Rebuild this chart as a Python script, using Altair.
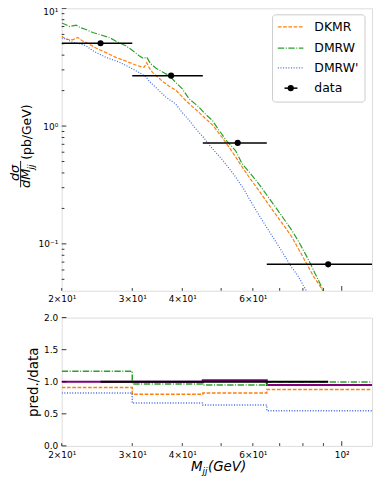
import altair as alt
import pandas as pd

# ---------------- data ----------------
bin_edges = [20, 30, 45, 65, 120]
data_x = [25.0, 37.5, 55.0, 92.5]
data_y = [5.05, 2.68, 0.72, 0.067]
data_xlo = [20, 30, 45, 65]
data_xhi = [30, 45, 65, 120]

dkmr_x = [20, 20.5, 21.3, 21.95, 22.5, 23.0, 24.35, 25.8, 27.3, 29.0, 30.6, 31.5, 32.1, 32.6, 33.1,
          33.7, 35.7, 37.1, 38.5, 40.8, 42.5, 44.0, 45.8, 47.5, 50.3, 52.2, 54.3, 56.4, 59.0, 62.0,
          65.0, 68.2, 71.5, 75.0, 78.5, 82.5, 85.0, 87.3, 89.9]
dkmr_y = [5.8, 5.47, 5.4, 5.65, 5.3, 5.13, 4.6, 4.2, 3.83, 3.55, 3.3, 3.2, 3.15, 3.45, 3.1,
          2.86, 2.4, 2.18, 2.02, 1.65, 1.45, 1.31, 1.15, 1.03, 0.8, 0.67, 0.55, 0.45, 0.36, 0.286,
          0.227, 0.181, 0.145, 0.115, 0.087, 0.064, 0.053, 0.0465, 0.0395]

dmrw_x = [20, 20.5, 20.9, 21.75, 22.2, 23.0, 23.9, 25.0, 26.3, 27.5, 28.9, 30.0, 31.2, 32.0, 32.6,
          33.3, 34.4, 35.7, 37.1, 38.5, 40.0, 41.6, 43.0, 44.0, 45.8, 47.5, 49.3, 51.6, 54.3, 56.4,
          59.0, 62.0, 65.0, 68.2, 71.5, 75.0, 78.0, 81.0, 83.5, 85.7, 88.0, 89.9]
dmrw_y = [7.5, 7.25, 7.0, 7.18, 6.87, 6.6, 6.23, 5.95, 5.65, 5.2, 4.81, 4.4, 3.96, 3.75, 3.85,
          3.4, 3.1, 2.88, 2.68, 2.35, 2.07, 1.7, 1.55, 1.45, 1.25, 1.12, 0.93, 0.75, 0.62, 0.48,
          0.4, 0.325, 0.26, 0.207, 0.165, 0.131, 0.105, 0.083, 0.068, 0.0564, 0.047, 0.04]

dmrwp_x = [20, 20.5, 21.3, 22.2, 23.0, 23.9, 25.8, 27.9, 30.1, 31.5, 32.5, 33.1, 34.0, 35.0, 36.4,
           38.5, 40.0, 41.6, 43.2, 45.2, 46.6, 48.4, 50.3, 52.0, 54.3, 57.0, 59.7, 62.5, 65.6, 69.0,
           72.2, 75.0, 77.9, 80.0, 81.7]
dmrwp_y = [5.58, 5.5, 5.13, 5.0, 4.81, 4.36, 3.83, 3.48, 3.05, 2.8, 2.6, 2.4, 2.2, 2.0, 1.76,
           1.54, 1.3, 1.12, 0.95, 0.8, 0.7, 0.6, 0.52, 0.45, 0.371, 0.29, 0.22, 0.17, 0.131, 0.1,
           0.078, 0.063, 0.053, 0.045, 0.0395]

ratio_dkmr = [0.91, 0.806, 0.826, 0.879]
ratio_dmrw = [1.165, 0.966, 0.95, 0.995]
ratio_dmrwp = [0.826, 0.667, 0.636, 0.548]
ratio_extra = [1.0, 1.0, 1.022, 0.95]
ratio_data = [1.0, 1.0, 1.0, 1.0]

series_names = ["DKMR", "DMRW", "DMRW'", "data"]
series_colors = ["#ff7f0e", "#2ca02c", "royalblue", "black"]
series_dash = [[3.7, 1.6], [6.4, 1.6, 1, 1.6], [1, 1.65], [1, 0]]

x_minor_ticks = [20, 30, 40, 50, 60, 70, 80, 90]
x_major_ticks = [100]
x_label_values = [20, 30, 40, 60, 100]
x_label_texts = ["2×10¹", "3×10¹", "4×10¹", "6×10¹", "10²"]
y_major_ticks = [0.1, 1, 10]
y_minor_ticks = [0.05, 0.06, 0.07, 0.08, 0.09, 0.2, 0.3, 0.4, 0.5, 0.6, 0.7, 0.8, 0.9,
                 2, 3, 4, 5, 6, 7, 8, 9]
y_label_texts = ["10⁻¹", "10⁰", "10¹"]
ratio_ticks = [0, 0.5, 1.0, 1.5, 2.0]

# ---------------- layout ----------------
W = 312
H1 = 284
H2 = 129
FONT = "DejaVu Sans"
MAJ = 4.7
MIN = 2.7


def label_expr(vals, texts):
    parts = [f"datum.value == {v} ? '{t}'" for v, t in zip(vals, texts)]
    return " : ".join(parts) + " : ''"


xs = alt.Scale(type="log", domain=[20, 119])
ys = alt.Scale(type="log", domain=[0.04, 10])
rs = alt.Scale(domain=[0, 2])

common_axis = dict(title=None, labelFlush=False, labelOverlap=False, ticks=False, tickSize=0,
                   domain=False, grid=False, labelFont=FONT, labelFontSize=9, labelColor="black")

x_axis_top = alt.Axis(values=x_label_values[:4],
                      labelExpr=label_expr(x_label_values[:4], x_label_texts[:4]),
                      labelPadding=4, **common_axis)
x_axis_bot = alt.Axis(values=x_label_values,
                      labelExpr=label_expr(x_label_values, x_label_texts),
                      labelPadding=5, **common_axis)
y_axis_top = alt.Axis(values=y_major_ticks,
                      labelExpr=label_expr(y_major_ticks, y_label_texts),
                      labelOffset={"condition": {"test": "datum.value >= 10", "value": 3.5}, "value": 0},
                      labelPadding=4, **common_axis)
y_axis_bot = alt.Axis(values=ratio_ticks, format=".1f", labelPadding=4,
                      **{**common_axis, "title": "pred./data"},
                      titleFont=FONT, titleFontSize=13.5, titleFontWeight="normal",
                      titleColor="black", titlePadding=3)


def X(axis, field="x"):
    return alt.X(f"{field}:Q", scale=xs, axis=axis)


# ---------------- top panel ----------------
top_layers = []
curves = [(dkmr_x, dkmr_y), (dmrw_x, dmrw_y), (dmrwp_x, dmrwp_y)]
for (cx, cy), col, dash in zip(curves, series_colors[:3], series_dash[:3]):
    df = pd.DataFrame({"x": cx, "y": cy})
    top_layers.append(
        alt.Chart(df).mark_line(color=col, strokeDash=dash, strokeWidth=1.2, clip=True).encode(
            x=X(x_axis_top), y=alt.Y("y:Q", scale=ys, axis=y_axis_top)))

pts = pd.DataFrame({"x": data_x, "y": data_y, "lo": data_xlo, "hi": data_xhi})
top_layers.append(
    alt.Chart(pts).mark_rule(color="black", strokeWidth=1.5, clip=True).encode(
        x=X(x_axis_top, "lo"), x2="hi:Q", y=alt.Y("y:Q", scale=ys, axis=y_axis_top)))
top_layers.append(
    alt.Chart(pts).mark_circle(color="black", size=38, opacity=1).encode(
        x=X(x_axis_top), y=alt.Y("y:Q", scale=ys, axis=y_axis_top)))

# inward ticks
for vals, ln in [(x_minor_ticks, MIN), (x_major_ticks, MAJ)]:
    top_layers.append(
        alt.Chart(pd.DataFrame({"x": vals})).mark_rule(color="black", strokeWidth=0.8).encode(
            x=X(x_axis_top), y=alt.value(H1), y2=alt.value(H1 - ln)))
for vals, ln in [(y_minor_ticks, MIN), (y_major_ticks, MAJ)]:
    top_layers.append(
        alt.Chart(pd.DataFrame({"y": vals})).mark_rule(color="black", strokeWidth=0.8).encode(
            y=alt.Y("y:Q", scale=ys, axis=y_axis_top), x=alt.value(0), x2=alt.value(ln)))

# legend
one = pd.DataFrame({"a": [0]})
top_layers.append(
    alt.Chart(one).mark_rect(fill="white", fillOpacity=0.8, stroke="#cccccc", strokeWidth=1,
                             cornerRadius=3).encode(
        x=alt.value(212), x2=alt.value(305), y=alt.value(6.6), y2=alt.value(94.3)))
leg_y = [18.6, 40.0, 60.0, 80.3]
for name, col, dash, ly in zip(series_names, series_colors, series_dash, leg_y):
    if name == "data":
        top_layers.append(alt.Chart(one).mark_rule(color=col, strokeWidth=1.5).encode(
            x=alt.value(224), x2=alt.value(237), y=alt.value(ly)))
        top_layers.append(alt.Chart(one).mark_circle(color=col, size=38, opacity=1).encode(
            x=alt.value(230.3), y=alt.value(ly)))
    else:
        top_layers.append(alt.Chart(one).mark_rule(color=col, strokeDash=dash, strokeWidth=1.2).encode(
            x=alt.value(217.3), x2=alt.value(243), y=alt.value(ly)))
    top_layers.append(alt.Chart(one).mark_text(text=name, align="left", baseline="middle",
                                               font=FONT, fontSize=12.5, color="black").encode(
        x=alt.value(254), y=alt.value(ly)))

# y title (fraction)
top_layers.append(alt.Chart(one).mark_text(text="(pb/GeV)", angle=270, align="center", baseline="middle",
                                           font=FONT, fontSize=12.5, color="black").encode(
    x=alt.value(-35), y=alt.value(124.5)))
top_layers.append(alt.Chart(one).mark_text(text="dσ", angle=270, align="center", baseline="middle",
                                           font=FONT, fontSize=13, fontStyle="italic", color="black").encode(
    x=alt.value(-47), y=alt.value(165.5)))
top_layers.append(alt.Chart(one).mark_rule(color="black", strokeWidth=0.9).encode(
    x=alt.value(-41.3), y=alt.value(153.5), y2=alt.value(180)))
top_layers.append(alt.Chart(one).mark_text(text="dM", angle=270, align="center", baseline="middle",
                                           font=FONT, fontSize=13, fontStyle="italic", color="black").encode(
    x=alt.value(-35.5), y=alt.value(171)))
top_layers.append(alt.Chart(one).mark_text(text="jj", angle=270, align="center", baseline="middle",
                                           font=FONT, fontSize=9, fontStyle="italic", color="black").encode(
    x=alt.value(-31), y=alt.value(159.5)))

top = alt.layer(*top_layers).properties(width=W, height=H1)

# ---------------- bottom panel ----------------
bot_layers = []


def step_df(vals):
    return pd.DataFrame({"x": bin_edges, "r": vals + [vals[-1]]})


bot_layers.append(alt.Chart(step_df(ratio_extra)).mark_line(
    color="purple", strokeWidth=2, interpolate="step-after", clip=True).encode(
    x=X(x_axis_bot), y=alt.Y("r:Q", scale=rs, axis=y_axis_bot)))
for vals, col, dash in zip([ratio_dkmr, ratio_dmrw, ratio_dmrwp], series_colors[:3], series_dash[:3]):
    bot_layers.append(alt.Chart(step_df(vals)).mark_line(
        color=col, strokeDash=dash, strokeWidth=1.5, interpolate="step-after", clip=True).encode(
        x=X(x_axis_bot), y=alt.Y("r:Q", scale=rs, axis=y_axis_bot)))
bot_layers.append(alt.Chart(pd.DataFrame({"x": data_x, "r": ratio_data})).mark_line(
    color="black", strokeWidth=2, clip=True).encode(
    x=X(x_axis_bot), y=alt.Y("r:Q", scale=rs, axis=y_axis_bot)))

for vals, ln in [(x_minor_ticks, MIN), (x_major_ticks, MAJ)]:
    bot_layers.append(
        alt.Chart(pd.DataFrame({"x": vals})).mark_rule(color="black", strokeWidth=0.8).encode(
            x=X(x_axis_bot), y=alt.value(H2), y2=alt.value(H2 - ln)))
bot_layers.append(
    alt.Chart(pd.DataFrame({"r": ratio_ticks})).mark_rule(color="black", strokeWidth=0.8).encode(
        y=alt.Y("r:Q", scale=rs, axis=y_axis_bot), x=alt.value(0), x2=alt.value(MAJ)))

# x title  M_jj(GeV)
bot_layers.append(alt.Chart(one).mark_text(text="M", align="left", baseline="alphabetic", font=FONT,
                                           fontSize=13.5, fontStyle="italic", color="black").encode(
    x=alt.value(130), y=alt.value(154)))
bot_layers.append(alt.Chart(one).mark_text(text="jj", align="left", baseline="alphabetic", font=FONT,
                                           fontSize=9, fontStyle="italic", color="black").encode(
    x=alt.value(141.5), y=alt.value(157)))
bot_layers.append(alt.Chart(one).mark_text(text="(GeV)", align="left", baseline="alphabetic", font=FONT,
                                           fontSize=13.5, fontStyle="italic", color="black").encode(
    x=alt.value(147), y=alt.value(154)))

bottom = alt.layer(*bot_layers).properties(width=W, height=H2)

chart = alt.vconcat(top, bottom, spacing=8).properties(
    padding={"left": 0, "top": -2, "right": 0, "bottom": 0}
).configure_view(stroke="#222222", strokeWidth=1).configure(background="white")

chart.save("out.html", embed_options={"renderer": "svg", "actions": False})
